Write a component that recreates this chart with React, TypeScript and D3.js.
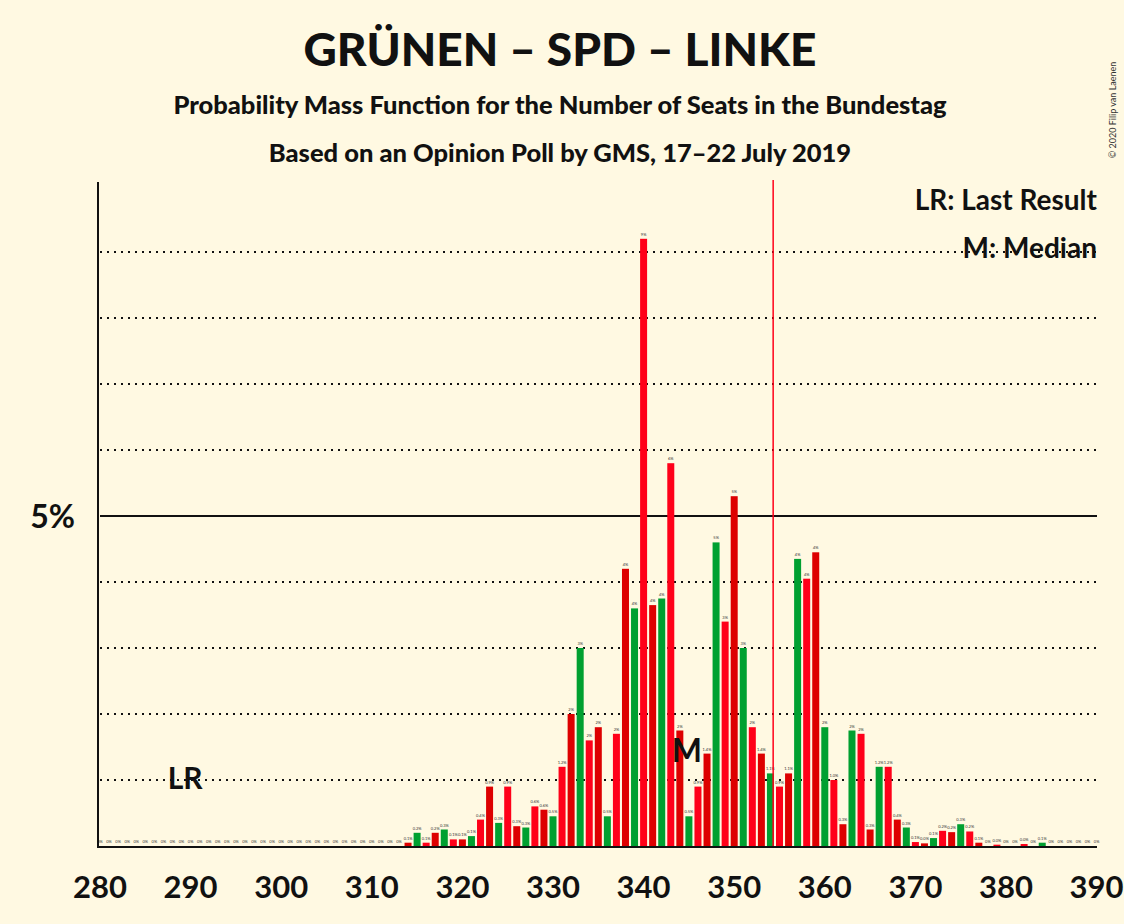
import React from 'react';
import * as d3 from 'd3';

const seats = d3.range(280, 391);
// probability per seat (in %), seats 314..384, everything else 0
const startSeat = 314;
const probs = [
  0.05, 0.2, 0.05, 0.2, 0.25, 0.1, 0.1, 0.15, 0.4, 0.9,
  0.35, 0.9, 0.3, 0.28, 0.6, 0.55, 0.45, 1.2, 2.0, 3.0,
  1.6, 1.8, 0.45, 1.7, 4.2, 3.6, 9.2, 3.65, 3.75, 5.8,
  1.75, 0.45, 0.9, 1.4, 4.6, 3.4, 5.3, 3.0, 1.8, 1.4,
  1.1, 0.9, 1.1, 4.35, 4.05, 4.45, 1.8, 1.0, 0.33, 1.75,
  1.7, 0.25, 1.2, 1.2, 0.4, 0.28, 0.06, 0.04, 0.12, 0.23,
  0.21, 0.33, 0.22, 0.05, 0, 0.02, 0, 0, 0.03, 0, 0.05,
];
// colours cycle green / red / dark red starting at seat 315
const palette = ['#00A030', '#FF0019', '#DD0000'];
const xTicks = d3.range(280, 391, 10);
const gridLines = [1, 2, 3, 4, 6, 7, 8, 9];
const lastResult = 354.3;
const median = 345;

const fmt = (v: number) => (v < 1.5 ? (v === 0 ? '0%' : `${v.toFixed(1)}%`) : `${Math.round(v)}%`);

export default function App() {
  const W = 1124, H = 924;
  const x = d3.scaleLinear().domain([280, 390]).range([100, 1096.6]);
  const y = d3.scaleLinear().domain([0, 10]).range([846, 186]);
  const font = 'Lato, "Open Sans", sans-serif';
  const bw = 7;
  const val = (s: number) => {
    const i = s - startSeat;
    return i >= 0 && i < probs.length ? probs[i] : 0;
  };
  const col = (s: number) => palette[(((s - 315) % 3) + 3) % 3];

  return (
    <svg width={W} height={H} style={{ position: 'absolute', left: 0, top: 0, background: '#FFF9E2' }} fontFamily={font}>
      <rect width={W} height={H} fill="#FFF9E2" />
      <text x={560} y={66} textAnchor="middle" fontSize={46} fontWeight={900} fill="#111">GRÜNEN – SPD – LINKE</text>
      <text x={560} y={114} textAnchor="middle" fontSize={25.5} fontWeight={900} fill="#111">Probability Mass Function for the Number of Seats in the Bundestag</text>
      <text x={560} y={162} textAnchor="middle" fontSize={25.5} fontWeight={900} fill="#111">Based on an Opinion Poll by GMS, 17–22 July 2019</text>
      <text transform="translate(1116,110) rotate(-90)" textAnchor="middle" fontSize={9} fill="#333">© 2020 Filip van Laenen</text>

      {gridLines.map(g => (
        <line key={g} x1={100} x2={1097} y1={y(g)} y2={y(g)} stroke="#111" strokeWidth={2} strokeDasharray="2,5" />
      ))}
      <line x1={100} x2={1097} y1={y(5)} y2={y(5)} stroke="#111" strokeWidth={2} />
      <text x={75} y={y(5) + 12} textAnchor="end" fontSize={32} fontWeight={700} fill="#111">5%</text>

      {seats.map(s => {
        const v = val(s);
        const cx = x(s);
        return (
          <g key={s}>
            {v > 0 && <rect x={cx - bw / 2} y={y(v)} width={bw} height={846 - y(v)} fill={col(s)} />}
            <text x={cx} y={y(v) - 3} textAnchor="middle" fontSize={4} fill="#333">{fmt(v)}</text>
          </g>
        );
      })}

      <line x1={x(lastResult)} x2={x(lastResult)} y1={180} y2={846} stroke="#FF0019" strokeWidth={1.5} />
      <text x={x(median) - 2} y={762} textAnchor="middle" fontSize={32} fontWeight={700} fill="#111">M</text>
      <text x={x(289.4)} y={789} textAnchor="middle" fontSize={30} fontWeight={700} fill="#111">LR</text>

      <text x={1097} y={210} textAnchor="end" fontSize={28} fontWeight={700} fill="#111">LR: Last Result</text>
      <text x={1097} y={258} textAnchor="end" fontSize={28} fontWeight={700} fill="#111">M: Median</text>

      <line x1={98} x2={98} y1={182} y2={847} stroke="#111" strokeWidth={2} />
      <line x1={97} x2={1097} y1={847} y2={847} stroke="#111" strokeWidth={2} />
      {xTicks.map(t => (
        <text key={t} x={x(t)} y={898} textAnchor="middle" fontSize={31} fontWeight={700} fill="#111">{t}</text>
      ))}
    </svg>
  );
}
